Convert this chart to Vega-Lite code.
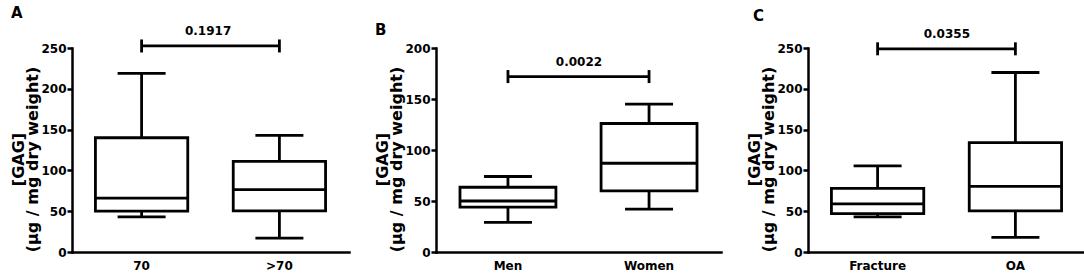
{
  "$schema": "https://vega.github.io/schema/vega-lite/v6.json",
  "padding": {"left": 10, "top": 5, "right": 0, "bottom": 0},
  "spacing": 25,
  "datasets": {
    "boxes": [
      {"panel": "A", "group": "70", "lower": 43, "q1": 50, "median": 66, "q3": 140, "upper": 219},
      {"panel": "A", "group": ">70", "lower": 17, "q1": 50.5, "median": 76.5, "q3": 111, "upper": 143},
      {"panel": "B", "group": "Men", "lower": 29, "q1": 44, "median": 50, "q3": 63.5, "upper": 74},
      {"panel": "B", "group": "Women", "lower": 42, "q1": 60, "median": 87, "q3": 126, "upper": 145},
      {"panel": "C", "group": "Fracture", "lower": 43, "q1": 47, "median": 59, "q3": 78, "upper": 105.5},
      {"panel": "C", "group": "OA", "lower": 18, "q1": 50.5, "median": 80.5, "q3": 134, "upper": 220}
    ],
    "brackets": [
      {"panel": "A", "g1": "70", "g2": ">70", "y": 252.5, "label": "0.1917"},
      {"panel": "B", "g1": "Men", "g2": "Women", "y": 172, "label": "0.0022"},
      {"panel": "C", "g1": "Fracture", "g2": "OA", "y": 249, "label": "0.0355"}
    ]
  },
  "hconcat": [
    {
      "title": {"text": "A"},
      "width": 277, "height": 204,
      "layer": [
        {"data": {"name": "boxes"}, "transform": [{"filter": "datum.panel === 'A'"}],
         "mark": {"type": "rule", "color": "black", "strokeWidth": 2.8},
         "encoding": {
           "x": {"field": "group", "type": "nominal", "scale": {"domain": ["70", ">70"], "paddingInner": 0.33, "paddingOuter": 0.17},
                 "axis": {"title": null, "labelAngle": 0, "ticks": false, "labelPadding": 8}},
           "y": {"field": "lower", "type": "quantitative", "scale": {"domain": [0, 250], "nice": false},
                 "axis": {"title": ["[GAG]", "(µg / mg dry weight)"], "values": [0, 50, 100, 150, 200, 250]}},
           "y2": {"field": "upper"}}},
        {"data": {"name": "boxes"}, "transform": [{"filter": "datum.panel === 'A'"}],
         "mark": {"type": "bar", "fill": "white", "stroke": "black", "strokeWidth": 2.8},
         "encoding": {"x": {"field": "group", "type": "nominal"}, "y": {"field": "q1", "type": "quantitative"}, "y2": {"field": "q3"}}},
        {"data": {"name": "boxes"}, "transform": [{"filter": "datum.panel === 'A'"}],
         "mark": {"type": "tick", "color": "black", "size": 93, "thickness": 2.8, "opacity": 1},
         "encoding": {"x": {"field": "group", "type": "nominal"}, "y": {"field": "median", "type": "quantitative"}}},
        {"data": {"name": "boxes"}, "transform": [{"filter": "datum.panel === 'A'"}],
         "mark": {"type": "tick", "color": "black", "size": 48, "thickness": 2.8, "opacity": 1},
         "encoding": {"x": {"field": "group", "type": "nominal"}, "y": {"field": "lower", "type": "quantitative"}}},
        {"data": {"name": "boxes"}, "transform": [{"filter": "datum.panel === 'A'"}],
         "mark": {"type": "tick", "color": "black", "size": 48, "thickness": 2.8, "opacity": 1},
         "encoding": {"x": {"field": "group", "type": "nominal"}, "y": {"field": "upper", "type": "quantitative"}}},
        {"data": {"name": "brackets"}, "transform": [{"filter": "datum.panel === 'A'"}],
         "mark": {"type": "rule", "color": "black", "strokeWidth": 2.8},
         "encoding": {"x": {"field": "g1", "type": "nominal"}, "x2": {"field": "g2"}, "y": {"field": "y", "type": "quantitative"}}},
        {"data": {"name": "brackets"}, "transform": [{"filter": "datum.panel === 'A'"}, {"fold": ["g1", "g2"], "as": ["end", "grp"]}],
         "mark": {"type": "tick", "orient": "vertical", "color": "black", "size": 13, "thickness": 2.8, "opacity": 1},
         "encoding": {"x": {"field": "grp", "type": "nominal"}, "y": {"field": "y", "type": "quantitative"}}},
        {"data": {"name": "brackets"}, "transform": [{"filter": "datum.panel === 'A'"}],
         "mark": {"type": "text", "font": "DejaVu Sans", "fontWeight": "bold", "fontSize": 12, "baseline": "alphabetic", "dy": -11, "color": "black"},
         "encoding": {"x": {"field": "g1", "type": "nominal", "bandPosition": 1.22}, "y": {"field": "y", "type": "quantitative"}, "text": {"field": "label"}}}
      ]
    },
    {
      "title": {"text": "B"},
      "width": 285, "height": 204,
      "layer": [
        {"data": {"name": "boxes"}, "transform": [{"filter": "datum.panel === 'B'"}],
         "mark": {"type": "rule", "color": "black", "strokeWidth": 2.8},
         "encoding": {
           "x": {"field": "group", "type": "nominal", "scale": {"domain": ["Men", "Women"], "paddingInner": 0.32, "paddingOuter": 0.17},
                 "axis": {"title": null, "labelAngle": 0, "ticks": false, "labelPadding": 8}},
           "y": {"field": "lower", "type": "quantitative", "scale": {"domain": [0, 200], "nice": false},
                 "axis": {"title": ["[GAG]", "(µg / mg dry weight)"], "values": [0, 50, 100, 150, 200]}},
           "y2": {"field": "upper"}}},
        {"data": {"name": "boxes"}, "transform": [{"filter": "datum.panel === 'B'"}],
         "mark": {"type": "bar", "fill": "white", "stroke": "black", "strokeWidth": 2.8},
         "encoding": {"x": {"field": "group", "type": "nominal"}, "y": {"field": "q1", "type": "quantitative"}, "y2": {"field": "q3"}}},
        {"data": {"name": "boxes"}, "transform": [{"filter": "datum.panel === 'B'"}],
         "mark": {"type": "tick", "color": "black", "size": 96, "thickness": 2.8, "opacity": 1},
         "encoding": {"x": {"field": "group", "type": "nominal"}, "y": {"field": "median", "type": "quantitative"}}},
        {"data": {"name": "boxes"}, "transform": [{"filter": "datum.panel === 'B'"}],
         "mark": {"type": "tick", "color": "black", "size": 48, "thickness": 2.8, "opacity": 1},
         "encoding": {"x": {"field": "group", "type": "nominal"}, "y": {"field": "lower", "type": "quantitative"}}},
        {"data": {"name": "boxes"}, "transform": [{"filter": "datum.panel === 'B'"}],
         "mark": {"type": "tick", "color": "black", "size": 48, "thickness": 2.8, "opacity": 1},
         "encoding": {"x": {"field": "group", "type": "nominal"}, "y": {"field": "upper", "type": "quantitative"}}},
        {"data": {"name": "brackets"}, "transform": [{"filter": "datum.panel === 'B'"}],
         "mark": {"type": "rule", "color": "black", "strokeWidth": 2.8},
         "encoding": {"x": {"field": "g1", "type": "nominal"}, "x2": {"field": "g2"}, "y": {"field": "y", "type": "quantitative"}}},
        {"data": {"name": "brackets"}, "transform": [{"filter": "datum.panel === 'B'"}, {"fold": ["g1", "g2"], "as": ["end", "grp"]}],
         "mark": {"type": "tick", "orient": "vertical", "color": "black", "size": 13, "thickness": 2.8, "opacity": 1},
         "encoding": {"x": {"field": "grp", "type": "nominal"}, "y": {"field": "y", "type": "quantitative"}}},
        {"data": {"name": "brackets"}, "transform": [{"filter": "datum.panel === 'B'"}],
         "mark": {"type": "text", "font": "DejaVu Sans", "fontWeight": "bold", "fontSize": 12, "baseline": "alphabetic", "dy": -11, "color": "black"},
         "encoding": {"x": {"field": "g1", "type": "nominal", "bandPosition": 1.24}, "y": {"field": "y", "type": "quantitative"}, "text": {"field": "label"}}}
      ]
    },
    {
      "title": {"text": "C", "dx": 6},
      "width": 277, "height": 204,
      "layer": [
        {"data": {"name": "boxes"}, "transform": [{"filter": "datum.panel === 'C'"}],
         "mark": {"type": "rule", "color": "black", "strokeWidth": 2.8},
         "encoding": {
           "x": {"field": "group", "type": "nominal", "scale": {"domain": ["Fracture", "OA"], "paddingInner": 0.33, "paddingOuter": 0.17},
                 "axis": {"title": null, "labelAngle": 0, "ticks": false, "labelPadding": 8}},
           "y": {"field": "lower", "type": "quantitative", "scale": {"domain": [0, 250], "nice": false},
                 "axis": {"title": ["[GAG]", "(µg / mg dry weight)"], "values": [0, 50, 100, 150, 200, 250]}},
           "y2": {"field": "upper"}}},
        {"data": {"name": "boxes"}, "transform": [{"filter": "datum.panel === 'C'"}],
         "mark": {"type": "bar", "fill": "white", "stroke": "black", "strokeWidth": 2.8},
         "encoding": {"x": {"field": "group", "type": "nominal"}, "y": {"field": "q1", "type": "quantitative"}, "y2": {"field": "q3"}}},
        {"data": {"name": "boxes"}, "transform": [{"filter": "datum.panel === 'C'"}],
         "mark": {"type": "tick", "color": "black", "size": 92, "thickness": 2.8, "opacity": 1},
         "encoding": {"x": {"field": "group", "type": "nominal"}, "y": {"field": "median", "type": "quantitative"}}},
        {"data": {"name": "boxes"}, "transform": [{"filter": "datum.panel === 'C'"}],
         "mark": {"type": "tick", "color": "black", "size": 48, "thickness": 2.8, "opacity": 1},
         "encoding": {"x": {"field": "group", "type": "nominal"}, "y": {"field": "lower", "type": "quantitative"}}},
        {"data": {"name": "boxes"}, "transform": [{"filter": "datum.panel === 'C'"}],
         "mark": {"type": "tick", "color": "black", "size": 48, "thickness": 2.8, "opacity": 1},
         "encoding": {"x": {"field": "group", "type": "nominal"}, "y": {"field": "upper", "type": "quantitative"}}},
        {"data": {"name": "brackets"}, "transform": [{"filter": "datum.panel === 'C'"}],
         "mark": {"type": "rule", "color": "black", "strokeWidth": 2.8},
         "encoding": {"x": {"field": "g1", "type": "nominal"}, "x2": {"field": "g2"}, "y": {"field": "y", "type": "quantitative"}}},
        {"data": {"name": "brackets"}, "transform": [{"filter": "datum.panel === 'C'"}, {"fold": ["g1", "g2"], "as": ["end", "grp"]}],
         "mark": {"type": "tick", "orient": "vertical", "color": "black", "size": 13, "thickness": 2.8, "opacity": 1},
         "encoding": {"x": {"field": "grp", "type": "nominal"}, "y": {"field": "y", "type": "quantitative"}}},
        {"data": {"name": "brackets"}, "transform": [{"filter": "datum.panel === 'C'"}],
         "mark": {"type": "text", "font": "DejaVu Sans", "fontWeight": "bold", "fontSize": 12, "baseline": "alphabetic", "dy": -11, "color": "black"},
         "encoding": {"x": {"field": "g1", "type": "nominal", "bandPosition": 1.25}, "y": {"field": "y", "type": "quantitative"}, "text": {"field": "label"}}}
      ]
    }
  ],
  "config": {
    "view": {"stroke": null},
    "font": "DejaVu Sans",
    "axis": {
      "grid": false,
      "domainColor": "black", "domainWidth": 2.5, "domainCap": "square",
      "tickColor": "black", "tickWidth": 2.5, "tickSize": 5,
      "labelColor": "black", "labelFont": "DejaVu Sans", "labelFontWeight": "bold", "labelFontSize": 12, "labelPadding": 1,
      "titleColor": "black", "titleFont": "DejaVu Sans", "titleFontWeight": "bold", "titleFontSize": 16, "titlePadding": 0, "titleLineHeight": 14
    },
    "axisY": {"titleY": 111},
    "title": {"font": "DejaVu Sans", "fontSize": 15, "fontWeight": "bold", "anchor": "start", "frame": "bounds", "color": "black", "offset": 4}
  }
}
